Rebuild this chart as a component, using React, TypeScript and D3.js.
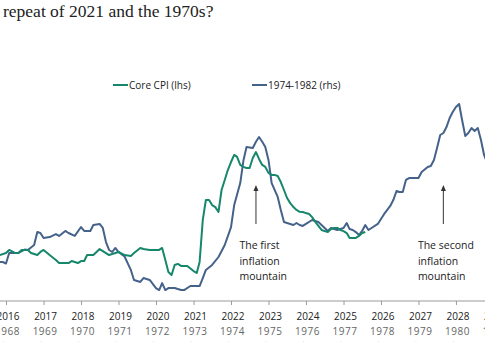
import { useEffect, useRef } from 'react';
import * as d3 from 'd3';

// Core CPI y/y %, monthly (left-hand scale)
const coreCpi: [string, number][] = [
  ['2015-11', 2.07], ['2016-01', 2.16], ['2016-02', 2.3], ['2016-04', 2.16], ['2016-05', 2.16],
  ['2016-06', 2.3], ['2016-08', 2.3], ['2016-09', 2.16], ['2016-11', 2.07], ['2016-12', 2.21],
  ['2017-01', 2.3], ['2017-03', 2.07], ['2017-05', 1.85], ['2017-06', 1.71], ['2017-08', 1.71],
  ['2017-09', 1.71], ['2017-10', 1.8], ['2017-12', 1.71], ['2018-01', 1.8], ['2018-02', 1.8],
  ['2018-03', 2.07], ['2018-05', 2.07], ['2018-06', 2.21], ['2018-07', 2.34], ['2018-09', 2.16],
  ['2018-10', 2.07], ['2018-12', 2.16], ['2019-01', 2.21], ['2019-03', 2.07], ['2019-05', 2.03],
  ['2019-06', 2.16], ['2019-08', 2.39], ['2019-09', 2.34], ['2019-11', 2.3], ['2020-01', 2.3],
  ['2020-02', 2.3], ['2020-03', 2.39], ['2020-04', 1.85], ['2020-05', 1.31], ['2020-06', 1.17],
  ['2020-07', 1.62], ['2020-08', 1.67], ['2020-09', 1.58], ['2020-11', 1.58], ['2021-01', 1.35],
  ['2021-02', 1.26], ['2021-03', 1.76], ['2021-04', 3.65], ['2021-05', 4.55], ['2021-06', 4.55],
  ['2021-07', 4.32], ['2021-08', 4.23], ['2021-09', 4.01], ['2021-10', 5.0], ['2021-11', 5.45],
  ['2021-12', 5.9], ['2022-01', 6.26], ['2022-02', 6.58], ['2022-03', 6.49], ['2022-04', 6.13],
  ['2022-05', 6.04], ['2022-06', 5.99], ['2022-07', 5.99], ['2022-08', 6.44], ['2022-09', 6.71],
  ['2022-10', 6.4], ['2022-11', 6.13], ['2022-12', 6.04], ['2023-01', 5.77], ['2023-02', 5.68],
  ['2023-03', 5.68], ['2023-04', 5.63], ['2023-05', 5.36], ['2023-06', 5.0], ['2023-07', 4.64],
  ['2023-08', 4.41], ['2023-09', 4.23], ['2023-10', 4.1], ['2023-11', 4.02], ['2023-12', 4.01],
  ['2024-01', 3.96], ['2024-02', 3.92], ['2024-03', 3.78], ['2024-04', 3.56], ['2024-05', 3.38],
  ['2024-06', 3.2], ['2024-07', 3.15], ['2024-08', 3.11], ['2024-09', 3.24], ['2024-10', 3.29],
  ['2024-11', 3.29], ['2024-12', 3.2], ['2025-01', 3.15], ['2025-02', 3.06], ['2025-03', 2.84],
  ['2025-04', 2.84], ['2025-05', 2.84], ['2025-06', 2.93], ['2025-07', 3.06], ['2025-08', 3.11],
];

// CPI 1974-1982 episode, monthly (right-hand scale, lower date axis)
const cpi70s: [string, number][] = [
  ['1967-11', 4.68], ['1967-12', 4.68], ['1968-01', 4.58], ['1968-02', 5.26], ['1968-05', 5.26],
  ['1968-07', 5.48], ['1968-08', 5.45], ['1968-10', 5.77], ['1968-11', 6.6], ['1968-12', 6.54],
  ['1969-01', 6.22], ['1969-03', 6.28], ['1969-05', 6.47], ['1969-06', 6.35], ['1969-08', 6.67],
  ['1969-09', 6.54], ['1969-11', 6.35], ['1970-01', 6.92], ['1970-02', 6.67], ['1970-04', 6.67],
  ['1970-05', 7.05], ['1970-07', 7.12], ['1970-08', 6.86], ['1970-09', 5.96], ['1970-10', 5.45],
  ['1970-11', 5.32], ['1970-12', 5.58], ['1971-01', 5.32], ['1971-03', 5.03], ['1971-05', 4.17],
  ['1971-06', 3.53], ['1971-08', 3.4], ['1971-09', 3.65], ['1971-11', 3.53], ['1972-01', 3.01],
  ['1972-02', 2.88], ['1972-03', 3.33], ['1972-04', 2.88], ['1972-05', 3.01], ['1972-07', 3.01],
  ['1972-09', 2.88], ['1972-10', 2.88], ['1972-12', 3.14], ['1973-03', 3.14], ['1973-04', 3.65],
  ['1973-05', 4.17], ['1973-07', 4.49], ['1973-09', 5.0], ['1973-11', 5.77], ['1974-01', 6.92],
  ['1974-02', 8.33], ['1974-04', 9.74], ['1974-05', 11.15], ['1974-06', 12.05], ['1974-08', 11.99],
  ['1974-09', 12.39], ['1974-10', 12.69], ['1974-11', 12.39], ['1974-12', 12.05], ['1975-01', 11.22],
  ['1975-02', 9.74], ['1975-04', 8.85], ['1975-05', 8.01], ['1975-06', 7.24], ['1975-07', 7.18],
  ['1975-09', 7.05], ['1975-10', 7.18], ['1975-11', 7.05], ['1975-12', 6.99], ['1976-01', 7.12],
  ['1976-03', 7.37], ['1976-05', 7.24], ['1976-06', 7.05], ['1976-07', 6.86], ['1976-08', 6.67],
  ['1976-09', 6.86], ['1976-11', 6.73], ['1977-01', 6.86], ['1977-02', 7.18], ['1977-03', 6.79],
  ['1977-04', 6.73], ['1977-05', 6.6], ['1977-06', 6.41], ['1977-07', 6.67], ['1977-08', 7.05],
  ['1977-09', 6.73], ['1977-10', 6.86], ['1977-12', 7.12], ['1978-01', 7.44], ['1978-02', 7.76],
  ['1978-03', 8.01], ['1978-04', 8.27], ['1978-05', 8.65], ['1978-06', 9.23], ['1978-07', 9.17],
  ['1978-08', 9.17], ['1978-09', 9.94], ['1978-10', 10.06], ['1978-12', 10.06], ['1979-01', 10.06],
  ['1979-02', 10.45], ['1979-04', 10.77], ['1979-05', 10.83], ['1979-06', 11.22], ['1979-07', 11.99],
  ['1979-08', 12.82], ['1979-09', 12.95], ['1979-10', 13.33], ['1979-11', 13.91], ['1979-12', 14.29],
  ['1980-01', 14.62], ['1980-02', 14.81], ['1980-03', 13.78], ['1980-04', 12.76], ['1980-05', 12.95],
  ['1980-06', 13.27], ['1980-07', 13.08], ['1980-08', 13.27], ['1980-09', 12.5], ['1980-10', 11.54],
  ['1980-11', 11.03], ['1980-12', 10.26],
];

const seriesNames = ['Core CPI (lhs)', '1974-1982 (rhs)'];
const annotations = [
  { month: '2022-09', lines: ['The first', 'inflation', 'mountain'], dx: -16.5 },
  { month: '2027-09', lines: ['The second', 'inflation', 'mountain'], dx: -25.5 },
];

const GREEN = '#16876a';
const BLUE = '#45628a';
const FONT = '"Open Sans", "Noto Sans", sans-serif';

export default function App() {
  const svgRef = useRef<SVGSVGElement | null>(null);

  useEffect(() => {
    const width = 485;
    const height = 360;
    const axisY = 301;
    const parse = d3.timeParse('%Y-%m');

    const svg = d3.select(svgRef.current);
    svg.selectAll('*').remove();
    svg.attr('width', width).attr('height', height);

    // two date axes sharing the same pixel range (2016 <-> 1968)
    const xTop = d3.scaleTime()
      .domain([new Date(2016, 0, 1), new Date(2029, 0, 1)])
      .range([6, 6 + 37.5 * 13]);
    const xBot = d3.scaleTime()
      .domain([new Date(1968, 0, 1), new Date(1981, 0, 1)])
      .range([6, 6 + 37.5 * 13]);

    const yL = d3.scaleLinear().domain([0, 8]).range([axisY, axisY - 8 * 22.2]);
    const yR = d3.scaleLinear().domain([0, 16]).range([335, 335 - 16 * 15.6]);

    svg.append('text')
      .attr('x', 3)
      .attr('y', 17)
      .attr('font-family', '"Liberation Serif", serif')
      .attr('font-size', 17.5)
      .attr('fill', '#222')
      .text('repeat of 2021 and the 1970s?');

    // bottom axis, upper row
    const gTop = svg.append('g').attr('transform', `translate(0,${axisY})`);
    gTop.call(
      d3.axisBottom(xTop)
        .ticks(d3.timeYear.every(1))
        .tickSize(4)
        .tickFormat(d => d3.timeFormat('%Y')(d as Date))
    );
    gTop.select('.domain').attr('stroke', '#9a9a9a').attr('d', `M0,0H${width}`);
    gTop.selectAll('.tick line').attr('stroke', '#9a9a9a');
    gTop.selectAll('.tick text')
      .attr('font-family', FONT)
      .attr('font-size', 10)
      .attr('fill', '#222')
      .attr('dx', 1.5)
      .attr('y', 12);

    // bottom axis, lower row
    const gBot = svg.append('g').attr('transform', `translate(0,${axisY + 40})`);
    gBot.call(
      d3.axisBottom(xBot)
        .ticks(d3.timeYear.every(1))
        .tickSize(1)
        .tickFormat(d => d3.timeFormat('%Y')(d as Date))
    );
    gBot.select('.domain').remove();
    gBot.selectAll('.tick line').attr('stroke', '#e4e4e4').attr('transform', 'translate(-3,0)');
    gBot.selectAll('.tick text')
      .attr('font-family', FONT)
      .attr('font-size', 10)
      .attr('letter-spacing', 0.5)
      .attr('fill', '#666')
      .attr('dx', 1)
      .attr('y', -13);

    const lineTop = d3.line<[string, number]>()
      .x(d => xTop(parse(d[0])!))
      .y(d => yL(d[1]));
    const lineBot = d3.line<[string, number]>()
      .x(d => xBot(parse(d[0])!))
      .y(d => yR(d[1]));

    svg.append('path')
      .datum(cpi70s)
      .attr('d', lineBot)
      .attr('fill', 'none')
      .attr('stroke', BLUE)
      .attr('stroke-width', 2)
      .attr('stroke-linejoin', 'round');

    svg.append('path')
      .datum(coreCpi)
      .attr('d', lineTop)
      .attr('fill', 'none')
      .attr('stroke', GREEN)
      .attr('stroke-width', 2)
      .attr('stroke-linejoin', 'round');

    // legend
    const legend = [
      { name: seriesNames[0], color: GREEN, x: 113 },
      { name: seriesNames[1], color: BLUE, x: 252 },
    ];
    legend.forEach(l => {
      svg.append('line')
        .attr('x1', l.x).attr('x2', l.x + 15)
        .attr('y1', 85).attr('y2', 85)
        .attr('stroke', l.color)
        .attr('stroke-width', 2);
      svg.append('text')
        .attr('x', l.x + 16)
        .attr('y', 88.5)
        .attr('font-family', FONT)
        .attr('font-size', 10)
        .attr('fill', '#222')
        .text(l.name);
    });

    // annotation arrows
    annotations.forEach(a => {
      const ax = xTop(parse(a.month)!);
      svg.append('line')
        .attr('x1', ax).attr('x2', ax)
        .attr('y1', 224).attr('y2', 190)
        .attr('stroke', '#555')
        .attr('stroke-width', 1.2);
      svg.append('path')
        .attr('d', `M${ax},185L${ax - 2.5},191L${ax + 2.5},191Z`)
        .attr('fill', '#333');
      const t = svg.append('text')
        .attr('x', ax + a.dx)
        .attr('y', 249)
        .attr('font-family', FONT)
        .attr('font-size', 10.5)
        .attr('fill', '#222');
      a.lines.forEach((ln, i) => {
        t.append('tspan')
          .attr('x', ax + a.dx)
          .attr('dy', i === 0 ? 0 : 15.7)
          .text(ln);
      });
    });
  }, []);

  return (
    <div style={{ position: 'absolute', left: 0, top: 0, width: 485, height: 360, background: '#fff' }}>
      <svg ref={svgRef} style={{ display: 'block' }} />
    </div>
  );
}
